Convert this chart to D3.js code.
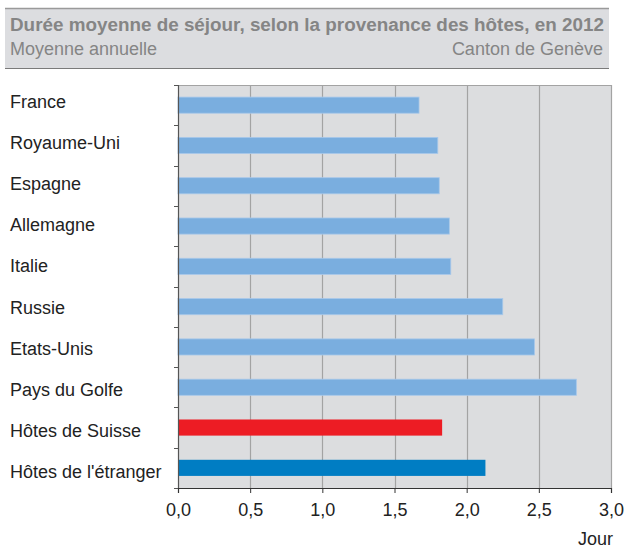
<!DOCTYPE html>
<html><head><meta charset="utf-8">
<script src="https://cdn.jsdelivr.net/npm/d3@7"></script>
<style>body{margin:0;background:#fff;} svg{display:block;}</style>
</head><body>
<script>
const categories = ["France","Royaume-Uni","Espagne","Allemagne","Italie","Russie","Etats-Unis","Pays du Golfe","Hôtes de Suisse","Hôtes de l'étranger"];
const values = [1.67,1.80,1.81,1.88,1.89,2.25,2.47,2.76,1.83,2.13];
const barColors = ["#7aaedf","#7aaedf","#7aaedf","#7aaedf","#7aaedf","#7aaedf","#7aaedf","#7aaedf","#ed1c24","#007dc3"];
const tickValues = [0,0.5,1,1.5,2,2.5,3];
const title = "Durée moyenne de séjour, selon la provenance des hôtes, en 2012";
const subtitleLeft = "Moyenne annuelle";
const subtitleRight = "Canton de Genève";
const unit = "Jour";

const FONT = "Liberation Sans, Arial, sans-serif";
const W = 627, H = 550;
const svg = d3.select("body").append("svg").attr("width", W).attr("height", H).attr("font-family", FONT);

// header
svg.append("rect").attr("x",5).attr("y",8).attr("width",604).attr("height",60).attr("fill","#dcdde0");
svg.append("line").attr("x1",5).attr("x2",609).attr("y1",8.5).attr("y2",8.5).attr("stroke","#9a9a9a").attr("stroke-width",1.5);
svg.append("line").attr("x1",5).attr("x2",609).attr("y1",68.5).attr("y2",68.5).attr("stroke","#7a7a7a").attr("stroke-width",1.2);
svg.append("text").attr("x",10).attr("y",31).attr("fill","#858585").attr("font-size","17.5px").attr("font-weight","bold").attr("font-family",FONT)
  .attr("textLength",594).attr("lengthAdjust","spacingAndGlyphs").text(title);
svg.append("text").attr("x",10).attr("y",55).attr("fill","#858585").attr("font-size","18px").attr("font-family",FONT).text(subtitleLeft);
svg.append("text").attr("x",603).attr("y",55).attr("text-anchor","end").attr("fill","#858585").attr("font-size","18px").attr("font-family",FONT).text(subtitleRight);

const x0 = 178, x1 = 611, y0 = 85, y1 = 488;
const x = d3.scaleLinear().domain([0,3]).range([x0,x1]);
const y = d3.scaleBand().domain(categories).range([y0,y1]).paddingInner(0.6).paddingOuter(0.3);
const yOuter = d3.scaleBand().domain(categories).range([y0,y1]);
const yLabel = d3.scalePoint().domain(categories).range([108,478]);

svg.append("rect").attr("x",x0).attr("y",y0).attr("width",x1-x0).attr("height",y1-y0).attr("fill","#dcdddf");
// gridlines
svg.append("g").selectAll("line").data(tickValues.slice(1)).join("line")
  .attr("x1",d=>Math.round(x(d))+0.5).attr("x2",d=>Math.round(x(d))+0.5)
  .attr("y1",y0).attr("y2",y1).attr("stroke","#a3a3a3").attr("stroke-width",1.2);
svg.append("line").attr("x1",x0).attr("x2",x1).attr("y1",y0+0.5).attr("y2",y0+0.5).attr("stroke","#a3a3a3").attr("stroke-width",1.2);

// bars
svg.append("g").selectAll("rect").data(categories).join("rect")
  .attr("x",x(0)).attr("y",d=>y(d))
  .attr("width",(d,i)=>x(values[i])-x(0)).attr("height",y.bandwidth())
  .attr("fill",(d,i)=>barColors[i])
  .attr("stroke",(d,i)=>i<8?"#a8c8ea":"none").attr("stroke-width",0.8);

// x axis
const xAxis = d3.axisBottom(x).tickValues(tickValues).tickSize(5).tickPadding(10)
  .tickFormat(d=>d3.format(".1f")(d).replace(".",","));
const gx = svg.append("g").attr("transform",`translate(0,${y1})`).call(xAxis);
gx.attr("font-family",FONT).attr("font-size",18);
gx.select(".domain").attr("stroke","#333").attr("stroke-width",1.2);
gx.selectAll(".tick line").attr("stroke","#333");
gx.selectAll(".tick text").attr("font-size","18px").attr("fill","#222").attr("font-family",FONT);

// y axis with ticks at band boundaries
svg.append("line").attr("x1",x0+0.5).attr("x2",x0+0.5).attr("y1",y0).attr("y2",y1).attr("stroke","#555").attr("stroke-width",1.2);
const bounds = categories.map(c=>yOuter(c)).concat([y1]);
svg.append("g").selectAll("line").data(bounds).join("line")
  .attr("x1",x0-4).attr("x2",x0).attr("y1",d=>Math.round(d)+0.5).attr("y2",d=>Math.round(d)+0.5).attr("stroke","#555");
svg.append("g").selectAll("text").data(categories).join("text")
  .attr("x",10).attr("y",d=>yLabel(d))
  .attr("font-size","18px").attr("fill","#222").attr("font-family",FONT).text(d=>d);

svg.append("text").attr("x",613).attr("y",545).attr("text-anchor","end").attr("font-size","18px").attr("fill","#222").attr("font-family",FONT).text(unit);
</script>
</body></html>
